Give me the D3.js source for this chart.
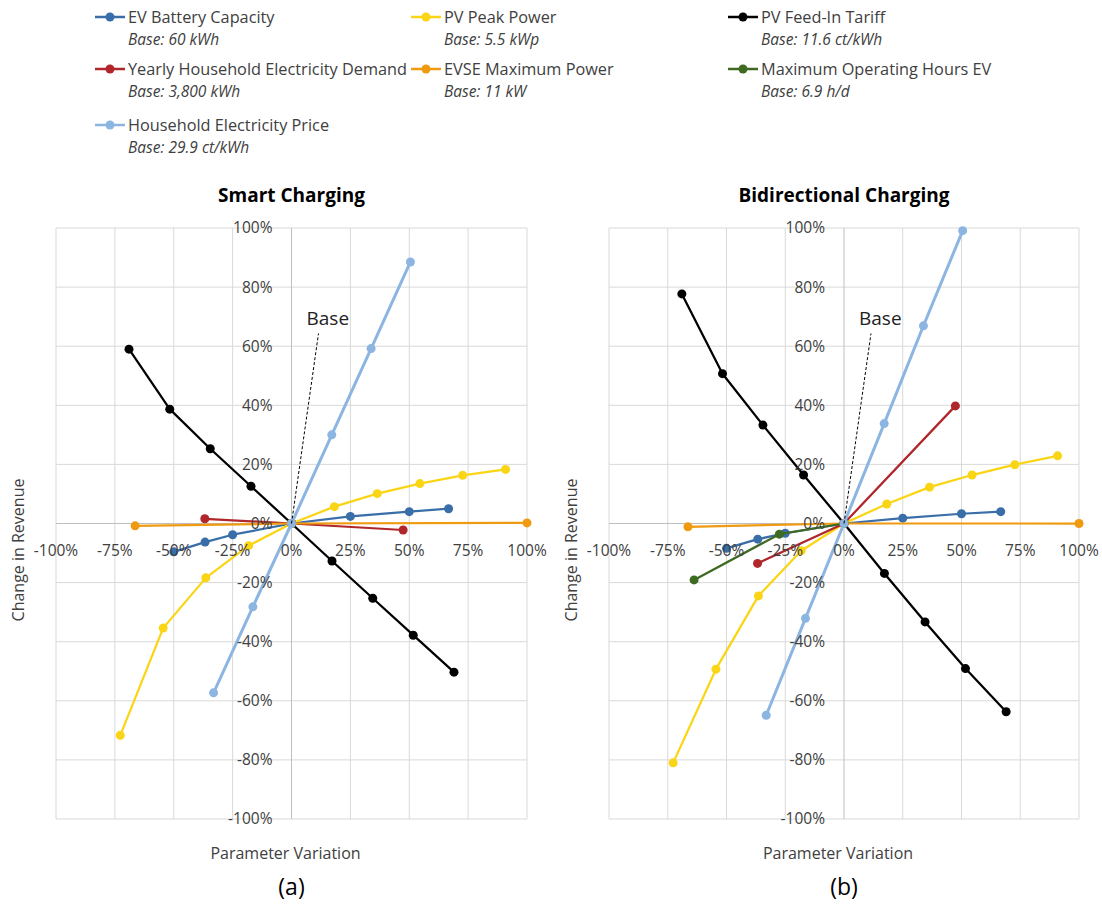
<!DOCTYPE html>
<html>
<head>
<meta charset="utf-8">
<script src="https://cdn.jsdelivr.net/npm/d3@7"></script>
<style>
  html, body { margin: 0; padding: 0; background: #fff; }
  svg { display: block; font-family: "Open Sans", "Noto Sans", sans-serif; }
</style>
</head>
<body>
<svg id="chart" width="1102" height="906"></svg>
<script>
// Parameter variation (% change from base value) for each input parameter
const batteryX = [-50, -36.7, -25, 0, 25, 50, 66.7];
const pvPeakX  = [-72.7, -54.5, -36.4, -18.2, 0, 18.2, 36.4, 54.5, 72.7, 90.9];
const feedInX  = [-69.0, -51.7, -34.5, -17.2, 0, 17.2, 34.5, 51.7, 69.0];
const demandX  = [-36.8, 0, 47.4];
const evseX    = [-66.4, 0, 100];
const hoursX   = [-63.8, -27.5, 0];
const priceX   = [-33.1, -16.4, 0, 17.1, 33.8, 50.5];

// Change in revenue (%) – smart charging
const smartBattery = [-9.6, -6.3, -3.8, 0, 2.4, 4.0, 5.0];
const smartPvPeak  = [-71.7, -35.4, -18.4, -7.5, 0, 5.7, 10.1, 13.5, 16.3, 18.3];
const smartFeedIn  = [59.0, 38.7, 25.3, 12.6, 0, -12.7, -25.3, -37.8, -50.3];
const smartDemand  = [1.6, 0, -2.2];
const smartEvse    = [-0.8, 0, 0.2];
const smartHours   = [];
const smartPrice   = [-57.3, -28.2, 0, 30.0, 59.2, 88.5];

// Change in revenue (%) – bidirectional charging
const bidiBattery = [-8.4, -5.3, -3.3, 0, 1.8, 3.3, 4.0];
const bidiPvPeak  = [-81.0, -49.3, -24.5, -9.2, 0, 6.6, 12.3, 16.4, 19.9, 22.9];
const bidiFeedIn  = [77.7, 50.7, 33.3, 16.4, 0, -16.9, -33.3, -49.1, -63.7];
const bidiDemand  = [-13.5, 0, 39.8];
const bidiEvse    = [-1.1, 0, 0];
const bidiHours   = [-19.1, -3.6, 0];
const bidiPrice   = [-64.9, -32.1, 0, 33.8, 66.9, 99.1];

// Series names, base values and colours (legend order)
const seriesNames = ["EV Battery Capacity", "PV Peak Power", "PV Feed-In Tariff",
  "Yearly Household Electricity Demand", "EVSE Maximum Power", "Maximum Operating Hours EV",
  "Household Electricity Price"];
const seriesBases = ["Base: 60 kWh", "Base: 5.5 kWp", "Base: 11.6 ct/kWh",
  "Base: 3,800 kWh", "Base: 11 kW", "Base: 6.9 h/d", "Base: 29.9 ct/kWh"];
const seriesColors = ["#3a6ea8", "#fad516", "#000000", "#b0262a", "#ef9a10", "#3f6a22", "#8cb5e2"];
const seriesX = [batteryX, pvPeakX, feedInX, demandX, evseX, hoursX, priceX];

const xTicks = [-100, -75, -50, -25, 0, 25, 50, 75, 100];
const yTicks = [-100, -80, -60, -40, -20, 0, 20, 40, 60, 80, 100];

const panels = [
  { title: "Smart Charging", tag: "(a)", left: 56, right: 527,
    ys: [smartBattery, smartPvPeak, smartFeedIn, smartDemand, smartEvse, smartHours, smartPrice] },
  { title: "Bidirectional Charging", tag: "(b)", left: 609, right: 1079,
    ys: [bidiBattery, bidiPvPeak, bidiFeedIn, bidiDemand, bidiEvse, bidiHours, bidiPrice] }
];

const svg = d3.select("#chart");
const plotTop = 228, plotBottom = 819;
const textColor = "#404040";

panels.forEach(p => {
  const x = d3.scaleLinear().domain([-100, 100]).range([p.left, p.right]);
  const y = d3.scaleLinear().domain([-100, 100]).range([plotBottom, plotTop]);
  const g = svg.append("g");
  const x0 = x(0), y0 = y(0);

  // gridlines
  g.append("g").selectAll("line").data(xTicks.filter(d => d !== 0)).join("line")
    .attr("x1", d => x(d)).attr("x2", d => x(d)).attr("y1", plotTop).attr("y2", plotBottom)
    .attr("stroke", "#d9d9d9").attr("stroke-width", 1);
  g.append("g").selectAll("line").data(yTicks.filter(d => d !== 0)).join("line")
    .attr("x1", p.left).attr("x2", p.right).attr("y1", d => y(d)).attr("y2", d => y(d))
    .attr("stroke", "#d9d9d9").attr("stroke-width", 1);
  // zero axes
  g.append("line").attr("x1", x0).attr("x2", x0).attr("y1", plotTop).attr("y2", plotBottom)
    .attr("stroke", "#bfbfbf").attr("stroke-width", 1);
  g.append("line").attr("x1", p.left).attr("x2", p.right).attr("y1", y0).attr("y2", y0)
    .attr("stroke", "#bfbfbf").attr("stroke-width", 1);

  // series lines and markers
  const line = d3.line().x(d => x(d[0])).y(d => y(d[1]));
  p.ys.forEach((vals, i) => {
    if (!vals.length) return;
    const pts = seriesX[i].map((v, k) => [v, vals[k]]);
    const sg = g.append("g");
    sg.append("path").datum(pts).attr("d", line).attr("fill", "none")
      .attr("stroke", seriesColors[i]).attr("stroke-width", i === 6 ? 3 : 2.25)
      .attr("stroke-linejoin", "round");
    sg.selectAll("circle").data(pts).join("circle")
      .attr("cx", d => x(d[0])).attr("cy", d => y(d[1])).attr("r", 4.5)
      .attr("fill", seriesColors[i]);
  });

  // tick labels
  g.append("g").selectAll("text").data(yTicks).join("text")
    .attr("x", x0 - 19).attr("y", d => y(d)).attr("dy", "0.35em")
    .attr("text-anchor", "end").attr("font-size", 15.5).attr("fill", textColor)
    .text(d => d + "%");
  g.append("g").selectAll("text").data(xTicks).join("text")
    .attr("x", d => x(d)).attr("y", y0 + 27).attr("dy", "0.35em")
    .attr("text-anchor", "middle").attr("font-size", 15.5).attr("fill", textColor)
    .text(d => d + "%");

  // base annotation
  g.append("line").attr("x1", x0).attr("y1", y0).attr("x2", x0 + 27).attr("y2", y0 - 190)
    .attr("stroke", "#000").attr("stroke-width", 1).attr("stroke-dasharray", "3,2");
  g.append("text").attr("x", x0 + 15).attr("y", y0 - 199)
    .attr("font-size", 19).attr("fill", "#222").text("Base");

  // titles
  const cx = (p.left + p.right) / 2;
  g.append("text").attr("x", cx).attr("y", 202).attr("text-anchor", "middle")
    .attr("font-size", 19).attr("font-weight", "bold").attr("fill", "#000").text(p.title);
  g.append("text").attr("x", cx - 6).attr("y", 853).attr("dy", "0.35em").attr("text-anchor", "middle")
    .attr("font-size", 16).attr("fill", textColor).text("Parameter Variation");
  g.append("text").attr("transform", `translate(${p.left - 38},550) rotate(-90)`)
    .attr("dy", "0.35em").attr("text-anchor", "middle")
    .attr("font-size", 16).attr("fill", textColor).text("Change in Revenue");
  g.append("text").attr("x", cx).attr("y", 887).attr("dy", "0.35em").attr("text-anchor", "middle")
    .attr("font-size", 23).attr("fill", "#000").text(p.tag);
});

// legend (three columns, filled row by row)
const colX = [95, 411, 728];
const rowY = [17, 69, 125];
const leg = svg.append("g");
seriesNames.forEach((name, i) => {
  const lx = colX[i % 3], ly = rowY[Math.floor(i / 3)];
  const e = leg.append("g");
  e.append("line").attr("x1", lx).attr("x2", lx + 30).attr("y1", ly).attr("y2", ly)
    .attr("stroke", seriesColors[i]).attr("stroke-width", 2.5);
  e.append("circle").attr("cx", lx + 15).attr("cy", ly).attr("r", 4.5).attr("fill", seriesColors[i]);
  e.append("text").attr("x", lx + 33).attr("y", ly).attr("dy", "0.35em")
    .attr("font-size", 16.3).attr("fill", textColor).text(name);
  e.append("text").attr("x", lx + 33).attr("y", ly + 23).attr("dy", "0.35em")
    .attr("font-size", 15.5).attr("font-style", "italic").attr("fill", textColor).text(seriesBases[i]);
});
</script>
</body>
</html>
